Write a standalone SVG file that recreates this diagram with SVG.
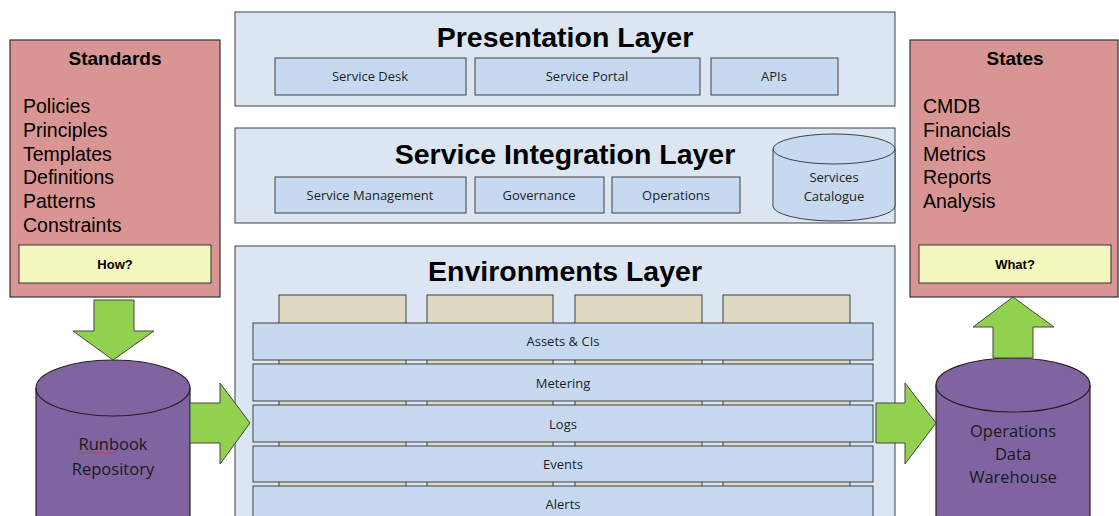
<svg xmlns="http://www.w3.org/2000/svg" width="1119" height="516" viewBox="0 0 1119 516">
<style>
.pink{fill:#d99594;stroke:#333;stroke-width:1.2}
.yel{fill:#f4f8be;stroke:#333;stroke-width:1}
.layer{fill:#dce6f2;stroke:#404040;stroke-width:1}
.sub{fill:#c6d9f1;stroke:#404040;stroke-width:1}
.tan{fill:#ddd9c3;stroke:#404040;stroke-width:1}
.purp{fill:#8064a2;stroke:#222;stroke-width:1.2}
.arrow{fill:#92d050;stroke:#444;stroke-width:1}
.h{font-family:"Liberation Sans",Arial,sans-serif;font-weight:bold;fill:#000}
.t{font-family:"Liberation Sans",Arial,sans-serif;fill:#000}
.s{font-family:"Open Sans","Liberation Sans",sans-serif;fill:#1e1e1e;font-size:13px;text-anchor:middle}
.c{font-family:"Open Sans","Liberation Sans",sans-serif;fill:#1a1a1a;font-size:16.5px;text-anchor:middle}
</style>

<g id="standards">
<rect class="pink" x="10" y="40" width="210" height="257"/>
<text class="h" x="115" y="65" font-size="19" text-anchor="middle">Standards</text>
<text class="t" x="23" y="113" font-size="19.5">Policies</text>
<text class="t" x="23" y="137" font-size="19.5">Principles</text>
<text class="t" x="23" y="161" font-size="19.5">Templates</text>
<text class="t" x="23" y="184" font-size="19.5">Definitions</text>
<text class="t" x="23" y="208" font-size="19.5">Patterns</text>
<text class="t" x="23" y="232" font-size="19.5">Constraints</text>
<rect class="yel" x="19" y="245" width="192" height="38"/>
<text class="h" x="115" y="269" font-size="13" text-anchor="middle">How?</text>
</g>

<g id="states">
<rect class="pink" x="910" y="40" width="208" height="257"/>
<text class="h" x="1015" y="65" font-size="19" text-anchor="middle">States</text>
<text class="t" x="923" y="113" font-size="19.5">CMDB</text>
<text class="t" x="923" y="137" font-size="19.5">Financials</text>
<text class="t" x="923" y="161" font-size="19.5">Metrics</text>
<text class="t" x="923" y="184" font-size="19.5">Reports</text>
<text class="t" x="923" y="208" font-size="19.5">Analysis</text>
<rect class="yel" x="919" y="245" width="192" height="38"/>
<text class="h" x="1015" y="269" font-size="13" text-anchor="middle">What?</text>
</g>

<g id="presentation">
<rect class="layer" x="235" y="12" width="660" height="94"/>
<text class="h" x="565" y="47" font-size="28.5" text-anchor="middle">Presentation Layer</text>
<rect class="sub" x="275" y="58" width="191" height="37"/>
<text class="s" x="370" y="81">Service Desk</text>
<rect class="sub" x="475" y="58" width="225" height="37"/>
<text class="s" x="587" y="81">Service Portal</text>
<rect class="sub" x="711" y="58" width="127" height="37"/>
<text class="s" x="774" y="81">APIs</text>
</g>

<g id="integration">
<rect class="layer" x="235" y="128" width="660" height="95"/>
<text class="h" x="565" y="164" font-size="28.5" text-anchor="middle">Service Integration Layer</text>
<rect class="sub" x="275" y="177" width="191" height="36"/>
<text class="s" x="370" y="200">Service Management</text>
<rect class="sub" x="475" y="177" width="129" height="36"/>
<text class="s" x="539" y="200">Governance</text>
<rect class="sub" x="612" y="177" width="128" height="36"/>
<text class="s" x="676" y="200">Operations</text>
<g id="catalogue">
<path class="sub" d="M773,149 L773,206 A61,15 0 0 0 895,206 L895,149 A61,15 0 0 0 773,149 Z"/>
<path fill="none" stroke="#404040" d="M773,149 A61,15 0 0 0 895,149"/>
<text class="s" x="834" y="182">Services</text>
<text class="s" x="834" y="201">Catalogue</text>
</g>
</g>

<g id="environments">
<rect class="layer" x="235" y="246" width="660" height="275"/>
<text class="h" x="565" y="281" font-size="28.5" text-anchor="middle">Environments Layer</text>
<rect class="tan" x="279" y="295" width="127" height="226"/>
<rect class="tan" x="427" y="295" width="126" height="226"/>
<rect class="tan" x="575" y="295" width="127" height="226"/>
<rect class="tan" x="723" y="295" width="127" height="226"/>
<rect class="sub" x="253" y="323" width="620" height="37"/>
<text class="s" x="563" y="346">Assets &amp; CIs</text>
<rect class="sub" x="253" y="364" width="620" height="37"/>
<text class="s" x="563" y="388">Metering</text>
<rect class="sub" x="253" y="405" width="620" height="37"/>
<text class="s" x="563" y="429">Logs</text>
<rect class="sub" x="253" y="446" width="620" height="36"/>
<text class="s" x="563" y="469">Events</text>
<rect class="sub" x="253" y="486" width="620" height="36"/>
<text class="s" x="563" y="509">Alerts</text>
</g>

<g id="runbook">
<path class="purp" d="M36,388 L36,520 L190,520 L190,388 A77,28 0 0 0 36,388 Z"/>
<path fill="none" stroke="#222" stroke-width="1.2" d="M36,388 A77,28 0 0 0 190,388"/>
<text class="c" x="113" y="450">Runbook</text>
<path fill="none" stroke="#e03030" stroke-width="0.8" d="M77,453 q1.5,-2 3,0 t3,0 t3,0 t3,0 t3,0 t3,0 t3,0 t3,0 t3,0 t3,0 t3,0 t3,0 t3,0"/>
<text class="c" x="113" y="475">Repository</text>
</g>

<g id="warehouse">
<path class="purp" d="M936,385 L936,520 L1090,520 L1090,385 A77,27 0 0 0 936,385 Z"/>
<path fill="none" stroke="#222" stroke-width="1.2" d="M936,385 A77,27 0 0 0 1090,385"/>
<text class="c" x="1013" y="437">Operations</text>
<text class="c" x="1013" y="460">Data</text>
<text class="c" x="1013" y="483">Warehouse</text>
</g>

<g id="connectors">
<path class="arrow" d="M94,300 L134,300 L134,331 L154,331 L113,360 L73,331 L94,331 Z"/>
<path class="arrow" d="M190,403 L220,403 L220,383 L250,423 L220,464 L220,443 L190,443 Z"/>
<path class="arrow" d="M876,403 L905,403 L905,383 L936,423 L905,464 L905,443 L876,443 Z"/>
<path class="arrow" d="M993,358 L993,327 L973,327 L1013,297 L1054,327 L1033,327 L1033,358 Z"/>
</g>
</svg>
